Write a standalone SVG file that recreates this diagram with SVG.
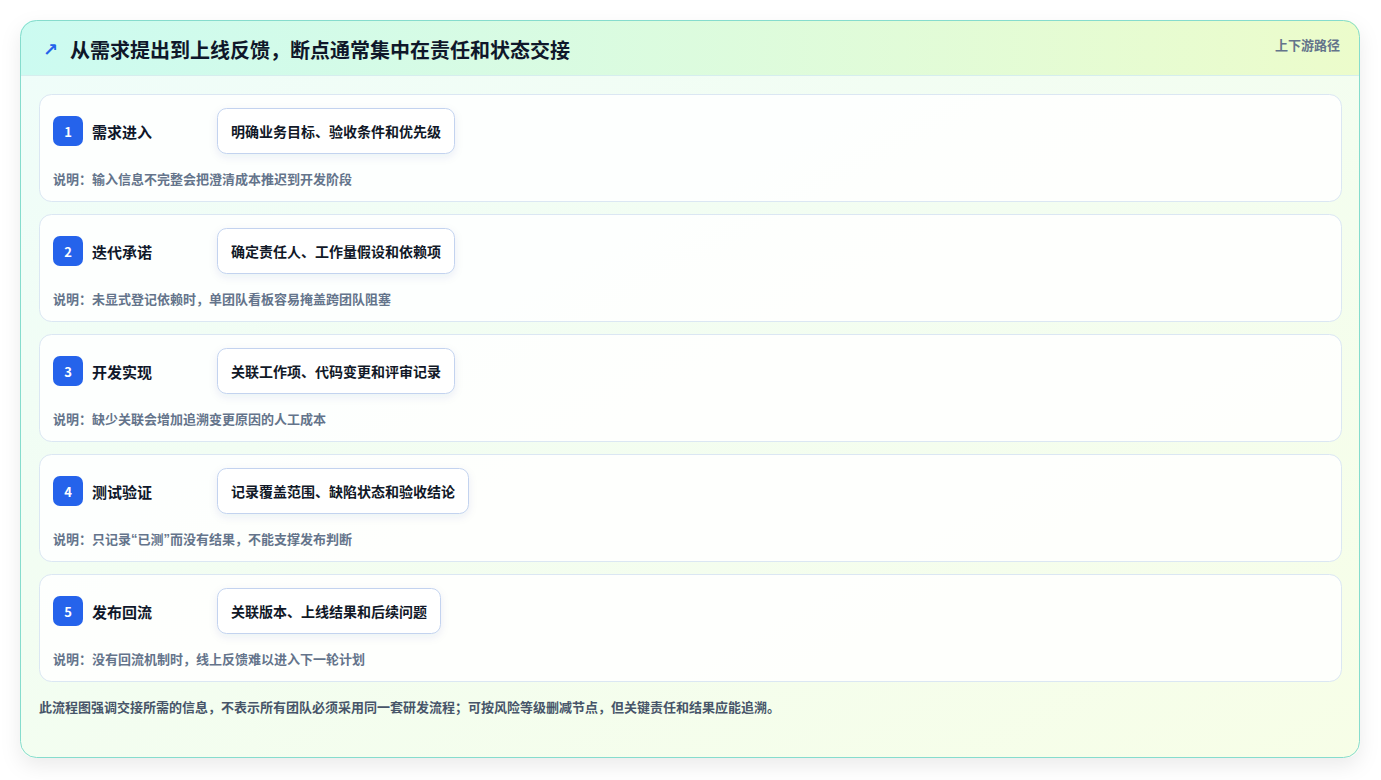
<svg xmlns="http://www.w3.org/2000/svg" width="1381" height="780" viewBox="0 0 1381 780">
<defs>
<linearGradient id="hdr" x1="0" y1="0" x2="1" y2="0"><stop offset="0" stop-color="#ccfbf1"/><stop offset="1" stop-color="#ecfccb"/></linearGradient>
<linearGradient id="body" x1="0" y1="0" x2="1" y2="1"><stop offset="0" stop-color="#effdfa"/><stop offset="1" stop-color="#f7fee7"/></linearGradient>
<clipPath id="oc"><rect x="20" y="20" width="1340" height="738" rx="16"/></clipPath>
<filter id="sh" x="-5%" y="-5%" width="110%" height="115%"><feDropShadow dx="0" dy="8" stdDeviation="10" flood-color="#0f172a" flood-opacity="0.08"/></filter>
<filter id="psh" x="-10%" y="-20%" width="120%" height="160%"><feDropShadow dx="0" dy="3" stdDeviation="4" flood-color="#1e3a8a" flood-opacity="0.08"/></filter>
<style>
text{font-family:"Noto Sans CJK SC","Noto Sans",sans-serif;font-weight:700;dominant-baseline:central}
.title{font-size:20px;fill:#0f172a}
.tag{font-size:13px;fill:#64748b}
.card{fill:#ffffff;fill-opacity:0.85;stroke:#dbe7f3;stroke-width:1}
.badge{fill:#2563eb}
.num{font-size:13px;fill:#ffffff;text-anchor:middle}
.stitle{font-size:15px;fill:#0f172a}
.pill{fill:#ffffff;stroke:#c3d3ef;stroke-width:1}
.ptext{font-size:14px;fill:#111827}
.desc{font-size:13px;fill:#64748b}
.q{font-family:"Liberation Sans",sans-serif}
.foot{font-size:13px;fill:#475569}
</style>
</defs>
<rect x="20" y="20" width="1340" height="738" rx="16" fill="url(#body)" filter="url(#sh)"/>
<g clip-path="url(#oc)">
<rect x="20" y="20" width="1340" height="55" fill="url(#hdr)"/>
<line x1="20" y1="75.5" x2="1360" y2="75.5" stroke="#d6eeee"/>
</g>
<rect x="20.5" y="20.5" width="1339" height="737" rx="16" fill="none" stroke="#86dccd"/>
<g id="header">
<text x="43" y="49" style="font-size:18px;fill:#2563eb;font-family:'DejaVu Sans',sans-serif">↗</text>
<text class="title" x="70" y="49">从需求提出到上线反馈，断点通常集中在责任和状态交接</text>
<text class="tag" x="1340" y="44" text-anchor="end">上下游路径</text>
</g>
<g id="connectors"></g>
<g id="step1">
<rect class="card" x="39.5" y="94.5" width="1302" height="107" rx="12"/>
<rect class="badge" x="53" y="116" width="30" height="30" rx="7"/>
<text class="num" x="68" y="131">1</text>
<text class="stitle" x="92" y="131">需求进入</text>
<rect class="pill" x="217.5" y="108.5" width="237" height="45" rx="9" filter="url(#psh)"/>
<text class="ptext" x="231" y="131">明确业务目标、验收条件和优先级</text>
<text class="desc" x="53" y="178">说明：输入信息不完整会把澄清成本推迟到开发阶段</text>
</g>
<g id="step2">
<rect class="card" x="39.5" y="214.5" width="1302" height="107" rx="12"/>
<rect class="badge" x="53" y="236" width="30" height="30" rx="7"/>
<text class="num" x="68" y="251">2</text>
<text class="stitle" x="92" y="251">迭代承诺</text>
<rect class="pill" x="217.5" y="228.5" width="237" height="45" rx="9" filter="url(#psh)"/>
<text class="ptext" x="231" y="251">确定责任人、工作量假设和依赖项</text>
<text class="desc" x="53" y="298">说明：未显式登记依赖时，单团队看板容易掩盖跨团队阻塞</text>
</g>
<g id="step3">
<rect class="card" x="39.5" y="334.5" width="1302" height="107" rx="12"/>
<rect class="badge" x="53" y="356" width="30" height="30" rx="7"/>
<text class="num" x="68" y="371">3</text>
<text class="stitle" x="92" y="371">开发实现</text>
<rect class="pill" x="217.5" y="348.5" width="237" height="45" rx="9" filter="url(#psh)"/>
<text class="ptext" x="231" y="371">关联工作项、代码变更和评审记录</text>
<text class="desc" x="53" y="418">说明：缺少关联会增加追溯变更原因的人工成本</text>
</g>
<g id="step4">
<rect class="card" x="39.5" y="454.5" width="1302" height="107" rx="12"/>
<rect class="badge" x="53" y="476" width="30" height="30" rx="7"/>
<text class="num" x="68" y="491">4</text>
<text class="stitle" x="92" y="491">测试验证</text>
<rect class="pill" x="217.5" y="468.5" width="251" height="45" rx="9" filter="url(#psh)"/>
<text class="ptext" x="231" y="491">记录覆盖范围、缺陷状态和验收结论</text>
<text class="desc" x="53" y="538">说明：只记录<tspan class="q">“</tspan>已测<tspan class="q">”</tspan>而没有结果，不能支撑发布判断</text>
</g>
<g id="step5">
<rect class="card" x="39.5" y="574.5" width="1302" height="107" rx="12"/>
<rect class="badge" x="53" y="596" width="30" height="30" rx="7"/>
<text class="num" x="68" y="611">5</text>
<text class="stitle" x="92" y="611">发布回流</text>
<rect class="pill" x="217.5" y="588.5" width="223" height="45" rx="9" filter="url(#psh)"/>
<text class="ptext" x="231" y="611">关联版本、上线结果和后续问题</text>
<text class="desc" x="53" y="658">说明：没有回流机制时，线上反馈难以进入下一轮计划</text>
</g>
<g id="footer">
<text class="foot" x="39" y="706">此流程图强调交接所需的信息，不表示所有团队必须采用同一套研发流程；可按风险等级删减节点，但关键责任和结果应能追溯。</text>
</g>
</svg>
